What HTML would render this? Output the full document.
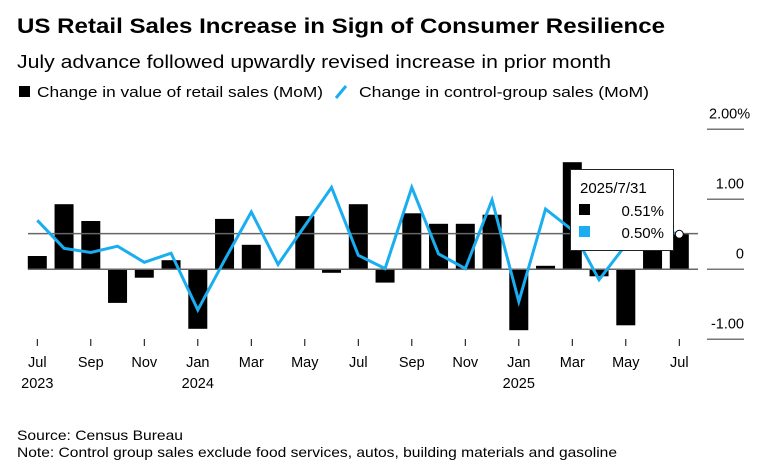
<!DOCTYPE html>
<html><head><meta charset="utf-8"><style>
body{margin:0;background:#fff}
svg{display:block;font-family:"Liberation Sans",Arial,sans-serif}
</style></head><body>
<svg width="773" height="472" viewBox="0 0 773 472">
<text x="17" y="33" font-size="21" font-weight="bold" fill="#000" textLength="648" lengthAdjust="spacingAndGlyphs">US Retail Sales Increase in Sign of Consumer Resilience</text>
<text x="17" y="68" font-size="18" fill="#000" textLength="594" lengthAdjust="spacingAndGlyphs">July advance followed upwardly revised increase in prior month</text>
<g>
<rect x="19" y="86" width="11" height="11" fill="#000"/>
<text x="37" y="97" font-size="14.5" textLength="286" lengthAdjust="spacingAndGlyphs">Change in value of retail sales (MoM)</text>
<line x1="336" y1="98" x2="346" y2="86" stroke="#1aaef0" stroke-width="3"/>
<text x="359" y="97" font-size="14.5" textLength="290" lengthAdjust="spacingAndGlyphs">Change in control-group sales (MoM)</text>
</g>
<g id="plot"></g>
<text x="17" y="440" font-size="14" textLength="166" lengthAdjust="spacingAndGlyphs">Source: Census Bureau</text>
<text x="17" y="457" font-size="14" textLength="600" lengthAdjust="spacingAndGlyphs">Note: Control group sales exclude food services, autos, building materials and gasoline</text>
</svg>
<script>
const months=["Jul","Aug","Sep","Oct","Nov","Dec","Jan","Feb","Mar","Apr","May","Jun","Jul","Aug","Sep","Oct","Nov","Dec","Jan","Feb","Mar","Apr","May","Jun","Jul"];
const retail=[0.19,0.93,0.69,-0.48,-0.12,0.13,-0.85,0.72,0.35,0.01,0.76,-0.05,0.93,-0.19,0.80,0.65,0.65,0.78,-0.87,0.05,1.53,-0.10,-0.80,0.60,0.51];
const control=[0.70,0.30,0.24,0.33,0.10,0.23,-0.58,0.13,0.82,0.07,0.62,1.17,0.20,0.01,1.17,0.22,0.01,0.99,-0.46,0.86,0.56,-0.15,0.35,0.60,0.50];
const yTicks=[2,1,0,-1];
const yTickLabels=["2.00%","1.00","0","-1.00"];
const xLabelIdx=[0,2,4,6,8,10,12,14,16,18,20,22,24];
const yearLabels={0:"2023",6:"2024",18:"2025"};
const NS="http://www.w3.org/2000/svg";
const g=document.getElementById('plot');
const X=i=>37.3+i*26.75;
const Y=v=>269.3-v*70;
function mk(t,a,p){const e=document.createElementNS(NS,t);for(const k in a)e.setAttribute(k,a[k]);(p||g).appendChild(e);return e;}
yTicks.forEach((v,k)=>{
 const l=mk('line',{x1:707,x2:744,y1:Y(v),y2:Y(v),stroke:'#777','stroke-width':1.5});
 
 
 const t=mk('text',{x:744,y:Y(v)-11,'font-size':14.5,'text-anchor':'end'});
 t.textContent=yTickLabels[k];
 if(k===0){t.setAttribute('text-anchor','start');t.setAttribute('x',709);}
 
 
});
retail.forEach((v,i)=>{
 const r=mk('rect',{x:X(i)-9.5,y:Math.min(Y(v),Y(0)),width:19,height:Math.abs(Y(v)-Y(0)),fill:'#000'});
 
 
});
const zl=mk('line',{x1:28,x2:698,y1:Y(0),y2:Y(0),stroke:'#666','stroke-width':1.5});


const last=retail.length-1;
const cl=mk('line',{x1:28,x2:698,y1:Y(retail[last]),y2:Y(retail[last]),stroke:'#666','stroke-width':1.5});


const pl=mk('polyline',{points:control.map((v,i)=>X(i)+','+Y(v)).join(' '),fill:'none',stroke:'#1aaef0','stroke-width':3,'stroke-linejoin':'miter'});


months.forEach((m,i)=>{
 if(!xLabelIdx.includes(i))return;
 const tk=mk('line',{x1:X(i),x2:X(i),y1:339,y2:346,stroke:'#000','stroke-width':1});
 
 
 const t=mk('text',{x:X(i),y:367,'font-size':14.5,'text-anchor':'middle'});
 t.textContent=m;
 
 
 if(yearLabels[i]){
  const y=mk('text',{x:X(i),y:388,'font-size':14.5,'text-anchor':'middle'});
  y.textContent=yearLabels[i];
  
  
 }
});
const tip=mk('g',{});


mk('rect',{x:570.5,y:169.5,width:103,height:81,fill:'#fff',stroke:'#222','stroke-width':1},tip);
const tt=mk('text',{x:580,y:193,'font-size':15},tip);tt.textContent="2025/7/31";
mk('rect',{x:579,y:204,width:11,height:11,fill:'#000'},tip);
const t1=mk('text',{x:664,y:216,'font-size':15,'text-anchor':'end'},tip);t1.textContent=retail[last].toFixed(2)+"%";
mk('rect',{x:579,y:226,width:11,height:11,fill:'#1aaef0'},tip);
const t2=mk('text',{x:664,y:238,'font-size':15,'text-anchor':'end'},tip);t2.textContent=control[last].toFixed(2)+"%";
const dot=mk('circle',{cx:X(last),cy:Y(control[last]),r:4,fill:'#fff',stroke:'#000','stroke-width':1});


</script>
</body></html>
